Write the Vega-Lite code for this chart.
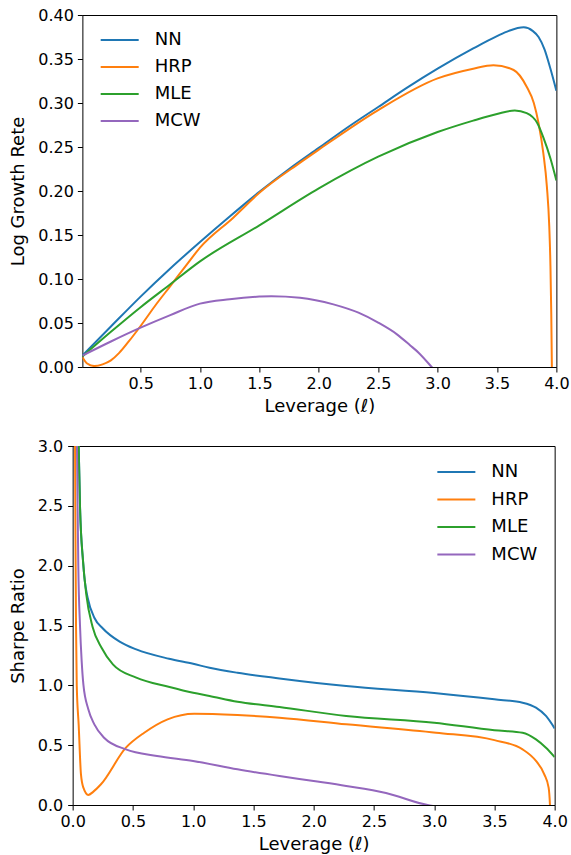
{
  "$schema": "https://vega.github.io/schema/vega-lite/v6.json",
  "padding": {"left": 8.5, "top": 6, "right": 0, "bottom": 3},
  "background": "white",
  "config": {
    "font": "DejaVu Sans",
    "view": {"stroke": "#000", "strokeWidth": 1},
    "axis": {
      "grid": false, "domain": false,
      "tickColor": "#000", "tickSize": 5, "tickWidth": 1,
      "labelColor": "#000", "labelFontSize": 16, "labelFont": "DejaVu Sans", "labelPadding": 3,
      "labelFlush": false, "labelOverlap": false,
      "titleFont": "DejaVu Sans", "titleFontSize": 18, "titleFontWeight": "normal", "titleColor": "#000"
    },
    "legend": {
      "title": null, "symbolType": "M-1,0H3", "symbolSize": 361, "symbolStrokeWidth": 2,
      "labelFontSize": 18, "labelFont": "DejaVu Sans", "labelColor": "#000", "labelOffset": 34, "padding": 0
    }
  },
  "datasets": {
    "growth": [
      {"m":"NN","x":0.01,"y":0.013},{"m":"NN","x":0.25,"y":0.046},{"m":"NN","x":0.5,"y":0.08},{"m":"NN","x":0.75,"y":0.112},{"m":"NN","x":1.0,"y":0.142},{"m":"NN","x":1.25,"y":0.171},{"m":"NN","x":1.5,"y":0.199},{"m":"NN","x":1.75,"y":0.225},{"m":"NN","x":2.0,"y":0.249},{"m":"NN","x":2.25,"y":0.273},{"m":"NN","x":2.5,"y":0.2955},{"m":"NN","x":2.75,"y":0.318},{"m":"NN","x":3.0,"y":0.339},{"m":"NN","x":3.3,"y":0.362},{"m":"NN","x":3.5,"y":0.376},{"m":"NN","x":3.6,"y":0.382},{"m":"NN","x":3.725,"y":0.386},{"m":"NN","x":3.8,"y":0.382},{"m":"NN","x":3.85,"y":0.375},{"m":"NN","x":3.9,"y":0.361},{"m":"NN","x":3.95,"y":0.339},{"m":"NN","x":4.0,"y":0.314},
      {"m":"HRP","x":0.01,"y":0.011},{"m":"HRP","x":0.05,"y":0.004},{"m":"HRP","x":0.11,"y":0.0011},{"m":"HRP","x":0.18,"y":0.003},{"m":"HRP","x":0.25,"y":0.0075},{"m":"HRP","x":0.32,"y":0.016},{"m":"HRP","x":0.4,"y":0.029},{"m":"HRP","x":0.5,"y":0.0466},{"m":"HRP","x":0.63,"y":0.071},{"m":"HRP","x":0.75,"y":0.092},{"m":"HRP","x":0.89,"y":0.1167},{"m":"HRP","x":1.0,"y":0.1356},{"m":"HRP","x":1.28,"y":0.1697},{"m":"HRP","x":1.5,"y":0.198},{"m":"HRP","x":1.84,"y":0.232},{"m":"HRP","x":2.0,"y":0.247},{"m":"HRP","x":2.5,"y":0.292},{"m":"HRP","x":3.0,"y":0.328},{"m":"HRP","x":3.3,"y":0.339},{"m":"HRP","x":3.47,"y":0.343},{"m":"HRP","x":3.64,"y":0.3375},{"m":"HRP","x":3.75,"y":0.3185},{"m":"HRP","x":3.81,"y":0.3},{"m":"HRP","x":3.85,"y":0.277},{"m":"HRP","x":3.89,"y":0.243},{"m":"HRP","x":3.92,"y":0.205},{"m":"HRP","x":3.94,"y":0.16},{"m":"HRP","x":3.95,"y":0.115},{"m":"HRP","x":3.957,"y":0.06},{"m":"HRP","x":3.962,"y":0.0},{"m":"HRP","x":3.965,"y":-0.05},
      {"m":"MLE","x":0.01,"y":0.012},{"m":"MLE","x":0.25,"y":0.04},{"m":"MLE","x":0.5,"y":0.068},{"m":"MLE","x":0.75,"y":0.094},{"m":"MLE","x":1.0,"y":0.12},{"m":"MLE","x":1.5,"y":0.161},{"m":"MLE","x":2.0,"y":0.203},{"m":"MLE","x":2.5,"y":0.239},{"m":"MLE","x":3.0,"y":0.267},{"m":"MLE","x":3.3,"y":0.28},{"m":"MLE","x":3.5,"y":0.2875},{"m":"MLE","x":3.65,"y":0.2915},{"m":"MLE","x":3.75,"y":0.2885},{"m":"MLE","x":3.84,"y":0.277},{"m":"MLE","x":3.89,"y":0.261},{"m":"MLE","x":3.95,"y":0.237},{"m":"MLE","x":4.0,"y":0.212},
      {"m":"MCW","x":0.01,"y":0.013},{"m":"MCW","x":0.25,"y":0.029},{"m":"MCW","x":0.5,"y":0.0447},{"m":"MCW","x":0.75,"y":0.059},{"m":"MCW","x":1.0,"y":0.072},{"m":"MCW","x":1.25,"y":0.077},{"m":"MCW","x":1.5,"y":0.08},{"m":"MCW","x":1.6,"y":0.0805},{"m":"MCW","x":1.842,"y":0.0788},{"m":"MCW","x":2.123,"y":0.0712},{"m":"MCW","x":2.334,"y":0.0617},{"m":"MCW","x":2.5,"y":0.0504},{"m":"MCW","x":2.658,"y":0.0371},{"m":"MCW","x":2.77,"y":0.0245},{"m":"MCW","x":2.84,"y":0.0163},{"m":"MCW","x":2.95,"y":0.0},{"m":"MCW","x":3.0,"y":-0.008}
    ],
    "sharpe": [
      {"m":"NN","x":0.04,"y":3.6},{"m":"NN","x":0.05,"y":3.0},{"m":"NN","x":0.061,"y":2.5},{"m":"NN","x":0.086,"y":2.04},{"m":"NN","x":0.1,"y":1.88},{"m":"NN","x":0.125,"y":1.73},{"m":"NN","x":0.18,"y":1.565},{"m":"NN","x":0.251,"y":1.475},{"m":"NN","x":0.39,"y":1.365},{"m":"NN","x":0.528,"y":1.3},{"m":"NN","x":0.8,"y":1.222},{"m":"NN","x":1.0,"y":1.18},{"m":"NN","x":1.136,"y":1.147},{"m":"NN","x":1.368,"y":1.105},{"m":"NN","x":1.716,"y":1.058},{"m":"NN","x":2.27,"y":0.994},{"m":"NN","x":3.0,"y":0.936},{"m":"NN","x":3.5,"y":0.883},{"m":"NN","x":3.734,"y":0.855},{"m":"NN","x":3.845,"y":0.813},{"m":"NN","x":3.928,"y":0.744},{"m":"NN","x":4.0,"y":0.64},
      {"m":"HRP","x":0.015,"y":3.6},{"m":"HRP","x":0.02,"y":3.0},{"m":"HRP","x":0.022,"y":2.5},{"m":"HRP","x":0.025,"y":2.0},{"m":"HRP","x":0.028,"y":1.5},{"m":"HRP","x":0.034,"y":1.0},{"m":"HRP","x":0.05,"y":0.67},{"m":"HRP","x":0.069,"y":0.256},{"m":"HRP","x":0.089,"y":0.145},{"m":"HRP","x":0.13,"y":0.084},{"m":"HRP","x":0.17,"y":0.11},{"m":"HRP","x":0.235,"y":0.173},{"m":"HRP","x":0.442,"y":0.479},{"m":"HRP","x":0.594,"y":0.604},{"m":"HRP","x":0.788,"y":0.716},{"m":"HRP","x":1.009,"y":0.763},{"m":"HRP","x":1.368,"y":0.752},{"m":"HRP","x":1.716,"y":0.73},{"m":"HRP","x":2.27,"y":0.674},{"m":"HRP","x":3.016,"y":0.604},{"m":"HRP","x":3.5,"y":0.542},{"m":"HRP","x":3.734,"y":0.465},{"m":"HRP","x":3.845,"y":0.368},{"m":"HRP","x":3.914,"y":0.256},{"m":"HRP","x":3.95,"y":0.145},{"m":"HRP","x":3.961,"y":0.0},{"m":"HRP","x":3.963,"y":-0.05},
      {"m":"MLE","x":0.04,"y":3.6},{"m":"MLE","x":0.05,"y":3.0},{"m":"MLE","x":0.061,"y":2.5},{"m":"MLE","x":0.086,"y":2.04},{"m":"MLE","x":0.113,"y":1.76},{"m":"MLE","x":0.165,"y":1.49},{"m":"MLE","x":0.24,"y":1.314},{"m":"MLE","x":0.334,"y":1.175},{"m":"MLE","x":0.528,"y":1.064},{"m":"MLE","x":0.804,"y":0.986},{"m":"MLE","x":1.0,"y":0.938},{"m":"MLE","x":1.136,"y":0.911},{"m":"MLE","x":1.368,"y":0.863},{"m":"MLE","x":1.716,"y":0.819},{"m":"MLE","x":2.27,"y":0.744},{"m":"MLE","x":3.0,"y":0.688},{"m":"MLE","x":3.5,"y":0.625},{"m":"MLE","x":3.734,"y":0.604},{"m":"MLE","x":3.845,"y":0.549},{"m":"MLE","x":3.928,"y":0.479},{"m":"MLE","x":4.0,"y":0.401},
      {"m":"MCW","x":0.03,"y":3.5},{"m":"MCW","x":0.036,"y":3.0},{"m":"MCW","x":0.041,"y":2.5},{"m":"MCW","x":0.047,"y":2.0},{"m":"MCW","x":0.061,"y":1.5},{"m":"MCW","x":0.075,"y":1.2},{"m":"MCW","x":0.089,"y":1.008},{"m":"MCW","x":0.13,"y":0.8},{"m":"MCW","x":0.18,"y":0.674},{"m":"MCW","x":0.263,"y":0.56},{"m":"MCW","x":0.442,"y":0.465},{"m":"MCW","x":0.7,"y":0.41},{"m":"MCW","x":1.0,"y":0.368},{"m":"MCW","x":1.368,"y":0.298},{"m":"MCW","x":1.716,"y":0.242},{"m":"MCW","x":2.0,"y":0.2},{"m":"MCW","x":2.27,"y":0.159},{"m":"MCW","x":2.6,"y":0.1},{"m":"MCW","x":2.946,"y":0.0},{"m":"MCW","x":3.0,"y":-0.01}
    ]
  },
  "vconcat": [
    {
      "width": 474, "height": 352,
      "data": {"name": "growth"},
      "mark": {"type": "line", "strokeWidth": 2, "clip": true, "interpolate": "monotone"},
      "encoding": {
        "x": {"field": "x", "type": "quantitative", "title": "Leverage (ℓ)",
              "scale": {"domain": [0.01, 4], "nice": false, "zero": false},
              "axis": {"values": [0.5,1.0,1.5,2.0,2.5,3.0,3.5,4.0], "format": ".1f", "titlePadding": 6}},
        "y": {"field": "y", "type": "quantitative", "title": "Log Growth Rete",
              "scale": {"domain": [0, 0.4], "nice": false},
              "axis": {"values": [0,0.05,0.1,0.15,0.2,0.25,0.3,0.35,0.4], "format": ".2f", "labelPadding": 4, "titlePadding": 10.1}},
        "color": {"field": "m", "type": "nominal",
                  "scale": {"domain": ["NN","HRP","MLE","MCW"], "range": ["#1f77b4","#ff7f0e","#2ca02c","#9467bd"]},
                  "legend": {"orient": "none", "legendX": 17.3, "legendY": 14.5, "rowPadding": 7.0}}
      }
    },
    {
      "width": 482, "height": 359,
      "data": {"name": "sharpe"},
      "mark": {"type": "line", "strokeWidth": 2, "clip": true, "interpolate": "monotone"},
      "encoding": {
        "x": {"field": "x", "type": "quantitative", "title": "Leverage (ℓ)",
              "scale": {"domain": [0, 4], "nice": false},
              "axis": {"values": [0,0.5,1.0,1.5,2.0,2.5,3.0,3.5,4.0], "format": ".1f", "titlePadding": 6}},
        "y": {"field": "y", "type": "quantitative", "title": "Sharpe Ratio",
              "scale": {"domain": [0, 3], "nice": false},
              "axis": {"values": [0,0.5,1.0,1.5,2.0,2.5,3.0], "format": ".1f", "labelPadding": 5, "titlePadding": 10.1}},
        "color": {"field": "m", "type": "nominal",
                  "scale": {"domain": ["NN","HRP","MLE","MCW"], "range": ["#1f77b4","#ff7f0e","#2ca02c","#9467bd"]},
                  "legend": {"orient": "none", "legendX": 322.2, "legendY": -26, "padding": 41.5, "rowPadding": 7.5}}
      }
    }
  ],
  "center": true,
  "spacing": 3,
  "resolve": {"legend": {"color": "independent"}}
}
